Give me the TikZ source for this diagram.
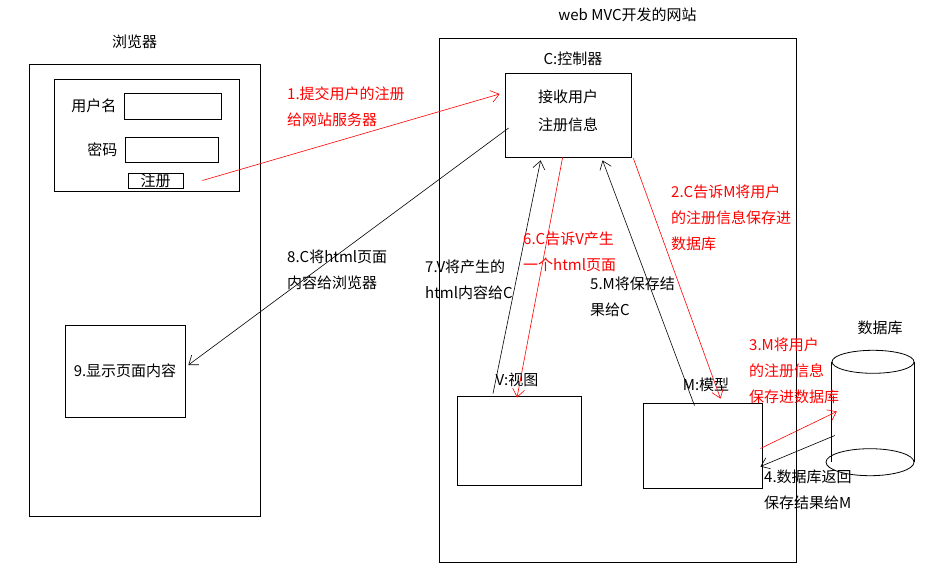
\documentclass[tikz,border=0pt]{standalone}
\usepackage{fontspec}
\setmainfont{Noto Sans CJK SC}
\usetikzlibrary{arrows.meta}
\tikzset{
	box/.style={draw, line width=0.8pt, rectangle, inner sep=0pt},
	lab/.style={inner sep=0pt, font=\fontsize{15}{26}\selectfont},
	note/.style={lab, align=left, anchor=north west},
	rednote/.style={note, text=red},
	flow/.style={draw, ->, line width=0.6pt},
	redflow/.style={flow, red},
	dbline/.style={draw, line width=0.8pt},
}

\begin{document}
\begin{tikzpicture}[x=1pt, y=-1pt, >={Straight Barb[length=8pt,width=12pt]}]
		\useasboundingbox (0,0) rectangle (925,577);
		\path (144.5,290) node[box, minimum width=231pt, minimum height=452pt] (browser) {};
		\path (browser.north) ++(-10,-22) node[lab] (browsertitle) {浏览器};
		\path (146.5,135) node[box, minimum width=185pt, minimum height=112pt] (form) {};
		\path (172.5,106) node[box, minimum width=97pt, minimum height=26pt] (user) {};
		\path (user.west) ++(-7,0) node[lab, anchor=east] (userlab) {用户名};
		\path (171.5,149.5) node[box, minimum width=93pt, minimum height=25pt] (pwd) {};
		\path (pwd.west) ++(-7,0) node[lab, anchor=east] (pwdlab) {密码};
		\path (155.5,180.5) node[box, lab, minimum width=55pt, minimum height=15pt] (reg) {注册};
		\path (125,371) node[box, lab, minimum width=120pt, minimum height=92pt] (disp) {9.显示页面内容};

		\path (617.5,300) node[box, minimum width=357pt, minimum height=524pt] (site) {};
		\path (site.north) ++(10,-23) node[lab] (sitetitle) {web MVC开发的网站};
		\path (568,115) node[box, minimum width=126pt, minimum height=84pt] (ctrl) {};
		\path (ctrl.north) ++(5,-14) node[lab] (ctrltitle) {C:控制器};
		\path (ctrl.north) ++(0,24) node[lab] (recv) {接收用户};
		\path (recv) ++(0,28) node[lab] (recvinfo) {注册信息};
		\path (519,440.5) node[box, minimum width=124pt, minimum height=89pt] (view) {};
		\path (view.north) ++(-2,-16) node[lab] (viewtitle) {V:视图};
		\path (702.5,445.5) node[box, minimum width=119pt, minimum height=85pt] (model) {};
		\path (model.north) ++(3.5,-18) node[lab] (modeltitle) {M:模型};

		\path (873,412.5) node[inner sep=0pt, minimum width=82pt, minimum height=125pt] (db) {};
		\path [dbline] ([yshift=-12pt]db.north) ellipse [x radius=41pt, y radius=11.5pt];
		\path [dbline] ([xshift=-3pt,yshift=13pt]db.south) ellipse [x radius=44pt, y radius=13.5pt];
		\path [dbline] ([yshift=-12pt]db.north west) -- ([yshift=13pt]db.south west);
		\path [dbline] ([yshift=-12pt]db.north east) -- ([yshift=13pt]db.south east);
		\path (db.north) ++(7,-22) node[lab] (dbtitle) {数据库};

		\path [redflow] ([xshift=19pt]reg.east) -- ([xshift=-5pt,yshift=21pt]ctrl.west);
		\path [redflow] ([xshift=2pt,yshift=-1pt]ctrl.south east) -- ([xshift=18pt,yshift=4pt]model.north);
		\path [redflow] ([xshift=-2pt,yshift=-3pt]model.east) -- ([xshift=5pt,yshift=1pt]db.west);
		\path [flow] ([xshift=3pt,yshift=-23pt]db.west) -- ([xshift=-2pt,yshift=-21pt]model.east);
		\path [flow] ([xshift=-8pt,yshift=-3pt]model.north) -- ([xshift=98pt,yshift=-3pt]ctrl.south west);
		\path [redflow] ([xshift=58pt]ctrl.south west) -- ([xshift=-2pt,yshift=-2pt]view.north);
		\path [flow] ([xshift=-26pt,yshift=2pt]view.north) -- ([xshift=36pt,yshift=-3pt]ctrl.south west);
		\path [flow] ([xshift=4pt,yshift=-13pt]ctrl.west) -- ([xshift=3pt,yshift=6pt]disp.east);

		\path (287,87) node[rednote] (step1) {1.提交用户的注册\\给网站服务器};
		\path (671,185) node[rednote] (step2) {2.C告诉M将用户\\的注册信息保存进\\数据库};
		\path (749,338) node[rednote] (step3) {3.M将用户\\的注册信息\\保存进数据库};
		\path (764,470) node[note] (step4) {4.数据库返回\\保存结果给M};
		\path (590,277) node[note] (step5) {5.M将保存结\\果给C};
		\path (523,232) node[rednote] (step6) {6.C告诉V产生\\一个html页面};
		\path (425,260) node[note] (step7) {7.V将产生的\\html内容给C};
		\path (287,250) node[note] (step8) {8.C将html页面\\内容给浏览器};
	\end{tikzpicture}
\end{document}
